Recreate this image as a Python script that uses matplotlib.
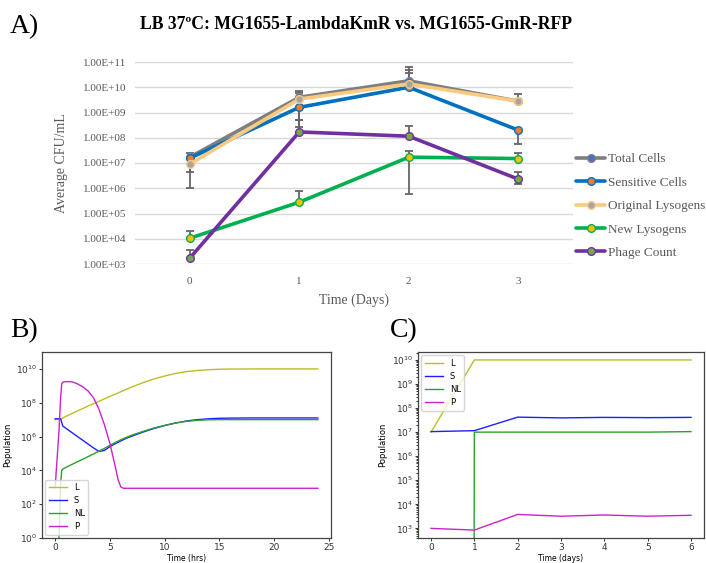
import numpy as np
import matplotlib
matplotlib.use('Agg')
import matplotlib.pyplot as plt
from matplotlib.ticker import FixedLocator, FuncFormatter, NullLocator

# ---------------- Panel A data (Excel chart) ----------------
days_A = [0, 1, 2, 3]
total_cells = [1.7e7, 4.0e9, 1.8e10, 2.8e9]
sensitive_cells = [1.55e7, 1.6e9, 1.0e10, 2.0e8]
original_lysogens = [9.0e6, 3.4e9, 1.35e10, 2.8e9]
new_lysogens = [1.05e4, 2.8e5, 1.7e7, 1.5e7]
phage_count = [1.7e3, 1.7e8, 1.15e8, 2.3e6]

# error bar ends (None = no bar on that side)
total_lo = [1.0e6, 5.0e8, None, None]
total_hi = [2.5e7, 7.0e9, 6.3e10, 5.4e9]
sens_lo = [4.5e6, 2.6e8, None, 5.6e7]
sens_hi = [None, None, 3.6e10, None]
orig_lo = [None, None, None, None]
orig_hi = [None, 5.9e9, 4.8e10, None]
newlys_lo = [None, None, 5.8e5, None]
newlys_hi = [2.1e4, 7.6e5, 3.0e7, 2.6e7]
phage_lo = [None, None, None, 1.45e6]
phage_hi = [3.5e3, 5.0e8, 2.9e8, 4.3e6]

labels_A = ["Total Cells", "Sensitive Cells", "Original Lysogens", "New Lysogens", "Phage Count"]
yticks_A = [1e3, 1e4, 1e5, 1e6, 1e7, 1e8, 1e9, 1e10, 1e11]

# ---------------- Panel B data (model, hours) ----------------
t_hrs = [0, 0.35, 0.5, 0.6, 0.7, 1, 1.5, 2, 2.5, 3, 3.5, 4, 4.5, 5, 5.5, 5.75, 6, 6.25, 6.5,
         7, 8, 9, 10, 11, 12, 13, 14, 15, 16, 18, 20, 22, 24]
L_B_exp = [7.0, 7.02, 7.04, 7.07, 7.1, 7.2, 7.35, 7.5, 7.65, 7.8, 7.94, 8.08, 8.23, 8.37, 8.51, 8.58,
           8.65, 8.72, 8.79, 8.93, 9.18, 9.4, 9.58, 9.73, 9.84, 9.91, 9.95, 9.98, 9.99, 10.0, 10.0, 10.0, 10.0]
S_B_exp = [7.05, 7.05, 7.05, 6.85, 6.62, 6.48, 6.25, 6.02, 5.79, 5.56, 5.33, 5.12, 5.18, 5.4, 5.58, 5.66,
           5.74, 5.82, 5.9, 6.02, 6.26, 6.47, 6.65, 6.8, 6.92, 7.0, 7.05, 7.08, 7.09, 7.1, 7.1, 7.1, 7.1]
NL_B_exp = [-np.inf, 0.0, 3.2, 4.0, 4.08, 4.18, 4.34, 4.5, 4.65, 4.81, 4.97, 5.13, 5.3, 5.48, 5.65, 5.73,
            5.81, 5.88, 5.95, 6.08, 6.3, 6.5, 6.66, 6.8, 6.9, 6.96, 6.99, 7.0, 7.0, 7.0, 7.0, 7.0, 7.0]
P_B_exp = [3.0, 6.3, 8.3, 9.12, 9.22, 9.25, 9.24, 9.13, 8.95, 8.7, 8.3, 7.62, 6.7, 5.6, 4.2, 3.45,
           3.02, 2.94, 2.94, 2.94, 2.94, 2.94, 2.94, 2.94, 2.94, 2.94, 2.94, 2.94, 2.94, 2.94, 2.94, 2.94, 2.94]
yticks_B = [1e0, 1e2, 1e4, 1e6, 1e8, 1e10]

# ---------------- Panel C data (model, days) ----------------
days_C = [0, 1, 2, 3, 4, 5, 6]
L_C = [1.0e7, 1.0e10, 1.0e10, 1.0e10, 1.0e10, 1.0e10, 1.0e10]
S_C = [1.05e7, 1.15e7, 4.2e7, 3.9e7, 4.1e7, 4.0e7, 4.1e7]
NL_C = [0.0, 1.0e7, 1.0e7, 1.0e7, 1.0e7, 1.0e7, 1.05e7]
P_C = [1.0e3, 8.5e2, 3.8e3, 3.2e3, 3.6e3, 3.2e3, 3.5e3]
yticks_C = [1e3, 1e4, 1e5, 1e6, 1e7, 1e8, 1e9, 1e10]

model_labels = ["L", "S", "NL", "P"]
model_colors = ["#bcbd22", "#1f1fff", "#2ca02c", "#cc22cc"]

W, H = 706, 563
fig = plt.figure(figsize=(W / 100, H / 100), dpi=100)
serif = ["Liberation Serif", "DejaVu Serif"]

# ================= Panel A =================
axA = fig.add_axes([135 / W, 1 - 264 / H, 438 / W, 202 / H])
axA.set_yscale('log')
axA.set_ylim(1e3, 1e11)
axA.set_xlim(-0.5, 3.5)
for s in axA.spines.values():
    s.set_visible(False)
axA.yaxis.set_major_locator(FixedLocator(yticks_A))
axA.yaxis.set_minor_locator(NullLocator())
axA.yaxis.set_major_formatter(FuncFormatter(lambda v, p: f"{v:.2E}"))
axA.set_xticks(days_A)
axA.tick_params(axis='both', length=0, colors='#595959', labelsize=8)
axA.tick_params(axis='y', pad=6)
axA.tick_params(axis='x', pad=9)
for lab in axA.get_xticklabels() + axA.get_yticklabels():
    lab.set_family(serif)
axA.yaxis.grid(True, color='#d9d9d9', lw=1.0)
axA.set_axisbelow(True)

styles = [
    (total_cells, total_lo, total_hi, '#7f7f7f', '#4472c4'),
    (sensitive_cells, sens_lo, sens_hi, '#0070c0', '#ed7d31'),
    (original_lysogens, orig_lo, orig_hi, '#fbc97f', '#a5a5a5'),
    (new_lysogens, newlys_lo, newlys_hi, '#00b050', '#ffc000'),
    (phage_count, phage_lo, phage_hi, '#7030a0', '#70ad47'),
]
handles = []
for (vals, lo, hi, lc, mc), lab in zip(styles, labels_A):
    xs, ys, el, eh = [], [], [], []
    for x, v, a, b in zip(days_A, vals, lo, hi):
        if a is None and b is None:
            continue
        xs.append(x)
        ys.append(v)
        el.append(v - (a if a is not None else v))
        eh.append((b if b is not None else v) - v)
    if xs:
        axA.errorbar(xs, ys, yerr=[el, eh], fmt='none', ecolor='#666666',
                     elinewidth=1.3, capsize=3, capthick=1.3, zorder=3)
    ln, = axA.plot(days_A, vals, color=lc, lw=2.6, marker='o', markersize=5.5,
                   markerfacecolor=mc, markeredgecolor=lc, markeredgewidth=1.0,
                   zorder=4, label=lab, solid_capstyle='round')
    handles.append(ln)

axA.set_xlabel("Time (Days)", family=serif, fontsize=10, color='#595959', labelpad=6)
axA.set_ylabel("Average CFU/mL", family=serif, fontsize=10, color='#595959')
axA.yaxis.set_label_coords(-(135 - 68) / 438, 0.5)

fig.legend(handles=handles, loc='center left', bbox_to_anchor=(576 / W, 1 - 206 / H),
           frameon=False, prop={'family': serif, 'size': 9.5}, labelcolor='#595959',
           handlelength=2.2, handletextpad=0.2, labelspacing=0.85,
           borderpad=0, borderaxespad=0)

fig.text(356 / W, 1 - 29 / H, "LB 37ºC: MG1655-LambdaKmR vs. MG1655-GmR-RFP",
         ha='center', va='baseline', family=serif, fontsize=12.7, fontweight='bold')
fig.text(10 / W, 1 - 33 / H, "A)", ha='left', va='baseline', family=serif, fontsize=20)
fig.text(10 / W, 1 - 337 / H, "B)", ha='left', va='baseline', family=serif, fontsize=20)
fig.text(390 / W, 1 - 337 / H, "C)", ha='left', va='baseline', family=serif, fontsize=20)

AX_TOP, AX_BOT = 352, 538
AX_H = AX_BOT - AX_TOP


def style_model_axis(ax, ylab_right_px, ax_left_px, ax_w_px):
    for s in ax.spines.values():
        s.set_color('#444444')
        s.set_linewidth(0.9)
    ax.tick_params(axis='both', which='both', labelsize=6.5, colors='#333333', width=0.7, pad=1.2)
    ax.tick_params(axis='both', which='major', length=2.5)
    ax.tick_params(axis='both', which='minor', length=1.5)
    ax.xaxis.set_label_coords(0.5, -(554 - AX_BOT) / AX_H)
    ax.yaxis.set_label_coords((ylab_right_px - ax_left_px) / ax_w_px, 0.5)


# ================= Panel B =================
axB = fig.add_axes([42 / W, 1 - AX_BOT / H, 289 / W, AX_H / H])
axB.set_yscale('log')
series_B = [10.0 ** np.array(L_B_exp), 10.0 ** np.array(S_B_exp),
            10.0 ** np.array(NL_B_exp), 10.0 ** np.array(P_B_exp)]
for vals, lab, c in zip(series_B, model_labels, model_colors):
    axB.plot(t_hrs, vals, color=c, lw=1.0, label=lab)
axB.set_ylim(1, 1e11)
axB.set_xlim(-1.2, 25.2)
axB.set_yticks(yticks_B)
axB.set_xlabel("Time (hrs)", fontsize=5.5)
axB.set_ylabel("Population", fontsize=6)
style_model_axis(axB, 12, 42, 289)
axB.legend(loc='lower left', fontsize=6, handlelength=2.2, borderaxespad=0.4,
           framealpha=0.8, edgecolor='#cccccc')

# ================= Panel C =================
axC = fig.add_axes([418 / W, 1 - AX_BOT / H, 286 / W, AX_H / H])
axC.set_yscale('log')
for vals, lab, c in zip([L_C, S_C, NL_C, P_C], model_labels, model_colors):
    axC.plot(days_C, vals, color=c, lw=1.0, label=lab)
axC.set_ylim(10 ** 2.6, 10 ** 10.33)
axC.set_yticks(yticks_C)
axC.set_xlabel("Time (days)", fontsize=5.5)
axC.set_ylabel("Population", fontsize=6)
style_model_axis(axC, 387, 418, 286)
axC.legend(loc='upper left', fontsize=6, handlelength=2.2, borderaxespad=0.4,
           framealpha=0.8, edgecolor='#cccccc')

fig.savefig("out.png", dpi=100)
